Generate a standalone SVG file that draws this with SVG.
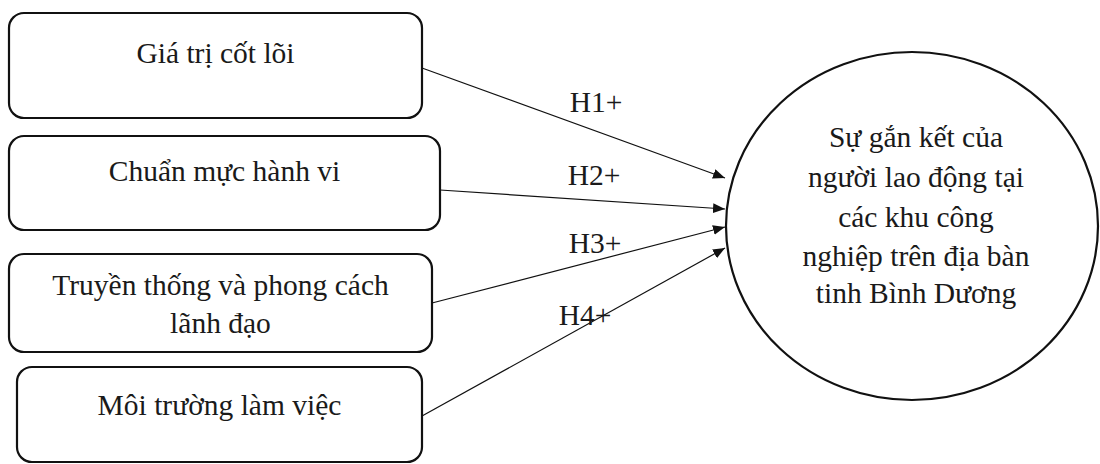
<svg xmlns="http://www.w3.org/2000/svg" width="1100" height="464" viewBox="0 0 1100 464">
<style>
.box{fill:#fff;stroke:#111;stroke-width:2.2}
.t{font-family:"Liberation Serif","Times New Roman",serif;font-size:29.5px;fill:#1a1a1a;text-anchor:middle}
.c{stroke:#111;stroke-width:1.2;fill:none}
</style>
<defs>
<marker id="ah" markerUnits="userSpaceOnUse" markerWidth="14" markerHeight="12" refX="12" refY="5" orient="auto">
<path d="M0,0 L12,5 L0,10 Z" fill="#111"/>
</marker>
</defs>
<rect width="1100" height="464" fill="#fff"/>
<g id="n1"><rect class="box" x="9" y="13" width="413" height="105" rx="15"/><text class="t" x="215.5" y="63">Giá trị cốt lõi</text></g>
<g id="n2"><rect class="box" x="9" y="136" width="431" height="94" rx="15"/><text class="t" x="224.5" y="181">Chuẩn mực hành vi</text></g>
<g id="n3"><rect class="box" x="9" y="254" width="423" height="98" rx="15"/><text class="t" x="220.5" y="295">Truyền thống và phong cách</text><text class="t" x="220.5" y="333">lãnh đạo</text></g>
<g id="n4"><rect class="box" x="17" y="367" width="405" height="95" rx="15"/><text class="t" x="219.5" y="415">Môi trường làm việc</text></g>
<g id="n5"><ellipse class="box" cx="912" cy="226" rx="186" ry="174"/>
<text class="t" x="916" y="147">Sự gắn kết của</text>
<text class="t" x="916" y="187">người lao động tại</text>
<text class="t" x="916" y="227">các khu công</text>
<text class="t" x="916" y="266">nghiệp trên địa bàn</text>
<text class="t" x="916" y="303">tinh Bình Dương</text></g>
<g id="connectors">
<line class="c" x1="422" y1="68" x2="725" y2="178" marker-end="url(#ah)"/>
<line class="c" x1="440" y1="190" x2="725" y2="209" marker-end="url(#ah)"/>
<line class="c" x1="432" y1="303" x2="725" y2="227" marker-end="url(#ah)"/>
<line class="c" x1="422" y1="416" x2="725" y2="248" marker-end="url(#ah)"/>
<text class="t" x="596" y="112">H1+</text>
<text class="t" x="594" y="185">H2+</text>
<text class="t" x="595" y="253">H3+</text>
<text class="t" x="585" y="325">H4+</text>
</g>
</svg>
